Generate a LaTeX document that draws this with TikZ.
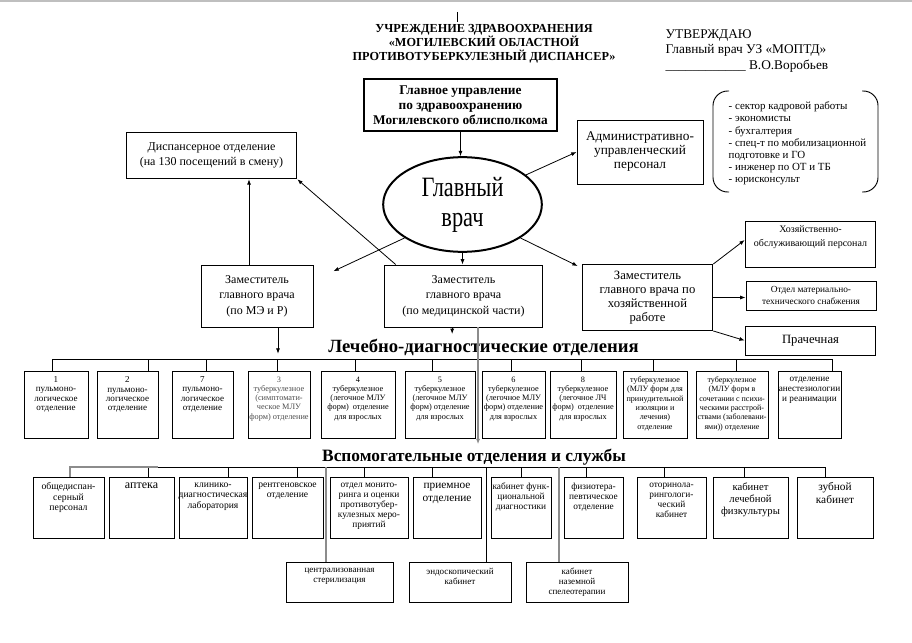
\documentclass[tikz,border=0pt]{standalone}
\usepackage{fontspec}
\setmainfont{Liberation Serif}
\newfontfamily\ovalfont[FakeStretch=0.8]{Liberation Serif}
\usetikzlibrary{calc}
\usetikzlibrary{positioning}
\usetikzlibrary{shapes.geometric}
\usetikzlibrary{arrows.meta}

\newcommand{\fs}[2]{\fontsize{#1}{#2}\selectfont}

\begin{document}
\begin{tikzpicture}[x=0.75pt, y=-0.75pt]
    \tikzstyle{cell}=[draw, rectangle, inner sep=0pt, line width=0.7pt]
    \tikzstyle{ctext}=[anchor=north, align=center, inner sep=2pt, yshift=-2.5pt]
    \tikzstyle{dept}=[cell, minimum height=50.25pt]
    \tikzstyle{serv}=[cell, minimum height=45.75pt]
    \tikzstyle{room}=[cell, minimum height=30pt]
    \tikzstyle{arr}=[-{Latex[length=4pt, width=3pt]}, line width=0.6pt]
    \tikzstyle{grayline}=[draw=black!45, line width=1.3pt]

    \useasboundingbox (0,0) rectangle (912,642);
    \draw[black!25, line width=1.5pt] (0,1) -- (912,1);

    % Header
    \node[font=\bfseries\fs{9.2}{10.5}, align=center] (uz) at (484,44)
      {УЧРЕЖДЕНИЕ ЗДРАВООХРАНЕНИЯ\\«МОГИЛЕВСКИЙ ОБЛАСТНОЙ\\ПРОТИВОТУБЕРКУЛЕЗНЫЙ ДИСПАНСЕР»};
    \draw (457,12) -- (457,22);
    \node[font=\fs{10}{11.6}, align=left, anchor=west] (utv) at (661,51)
      {УТВЕРЖДАЮ\\Главный врач УЗ «МОПТД»\\\_\_\_\_\_\_\_\_\_\_\_\_~В.О.Воробьев};

    % Management
    \node[cell, line width=1.6pt, minimum width=144.75pt, minimum height=39pt,
      font=\bfseries\fs{10}{11.25}, align=center] (gu) at (460.5,105)
      {Главное управление\\по здравоохранению\\Могилевского облисполкома};
    \node[draw, ellipse, line width=1.5pt, minimum width=119pt, minimum height=71pt,
      inner sep=0pt, font=\ovalfont\fs{21}{22.5}, align=center] (gv) at (462.5,204.5)
      {Главный\\врач};
    \node[cell, minimum width=128pt, minimum height=35pt, font=\fs{9}{11.25}, align=center]
      (disp) at (211.5,155.5) {Диспансерное отделение\\(на 130 посещений в смену)};
    \node[cell, minimum width=94.5pt, minimum height=48pt, font=\fs{10}{10.5}, align=center]
      (aup) at (640,152) {Административно-\\управленческий\\персонал};

    % Staff list
    \draw[line width=0.7pt, rounded corners=11pt] (729,91) -- (713,91) -- (713,192) -- (729,192);
    \draw[line width=0.7pt, rounded corners=11pt] (862,91) -- (878,91) -- (878,192) -- (862,192);
    \node[font=\fs{8.2}{9.15}, align=left, anchor=west] (lst) at (724,143.5)
      {- сектор кадровой работы\\- экономисты\\- бухгалтерия\\- спец-т по мобилизационной\\подготовке и ГО\\- инженер по ОТ и ТБ\\- юрисконсульт};

    % Deputies
    \node[cell, minimum width=84pt, minimum height=46.5pt, font=\fs{9}{11.6}, align=center]
      (zam1) at (257,296) {Заместитель\\главного врача\\(по МЭ и Р)};
    \node[cell, minimum width=119pt, minimum height=46.5pt, font=\fs{9}{11.6}, align=center]
      (zam2) at (463.5,296) {Заместитель\\главного врача\\(по медицинской части)};
    \node[cell, minimum width=98pt, minimum height=49.5pt, font=\fs{9.5}{10.5}, align=center]
      (zam3) at (647.5,297.5) {Заместитель\\главного врача по\\хозяйственной\\работе};

    % Household services
    \node[cell, minimum width=98pt, minimum height=34.5pt,
      label={[ctext, yshift=1pt, font=\fs{7.5}{10.5}]north:{Хозяйственно-\\обслуживающий персонал}}]
      (ho) at (810.5,244) {};
    \node[cell, minimum width=97.5pt, minimum height=21.75pt, font=\fs{7}{9}, align=center]
      (mts) at (811,295.5) {Отдел материально-\\технического снабжения};
    \node[cell, minimum width=98pt, minimum height=21.75pt, font=\fs{9.5}{11}]
      (pr) at (810.5,340.5) {Прачечная};

    % Connections at the top
    \draw[arr] (gu.south) -- (gu.south |- gv.north);
    \draw[arr] (gv.25) -- (aup.west);
    \draw[arr] (gv.210) -- ([xshift=15pt, yshift=-5pt]zam1.north east);
    \draw[arr] (gv.south) -- (gv.south |- zam2.north);
    \draw[arr] (gv.330) -- ([xshift=-3pt, yshift=-1.5pt]zam3.north west);
    \draw[arr] ([xshift=9pt]zam2.north west) -- (disp.south east);
    \draw[arr] ([xshift=-6pt]zam1.north) -- ([xshift=-6pt]zam1.north |- disp.south);
    \draw[arr] (zam3.north east) -- ([yshift=3pt]ho.west);
    \draw[arr] (zam3.east) -- (zam3.east -| mts.west);
    \draw[arr] (zam3.south east) -- (pr.west);

    % Titles
    \node[font=\bfseries\fs{14}{15}] (ld) at (483.5,347) {Лечебно-диагностические отделения};
    \node[font=\bfseries\fs{13}{15}] (vs) at (474,457) {Вспомогательные отделения и службы};
    \coordinate (bus1) at (0,359);
    \coordinate (bus2) at (0,467);

    \draw[arr] ([xshift=-8.5pt]zam2.south) -- ([xshift=-8.5pt]zam2.south |- ld.north);
    \draw[arr, shorten >=4pt] ([xshift=15.75pt]zam1.south) -- ([xshift=15.75pt]zam1.south |- bus1);

    % Medical departments
    \node[dept, minimum width=48pt, label={[ctext, font=\fs{6.8}{6.9}]north:{1\\пульмоно-\\логическое\\отделение}}] (l1) at (56,404.5) {};
    \node[dept, minimum width=45.75pt, label={[ctext, font=\fs{6.8}{6.9}]north:{2\\пульмоно-\\логическое\\отделение}}] (l2) at (127.5,404.5) {};
    \node[dept, minimum width=45.75pt, label={[ctext, font=\fs{6.8}{6.9}]north:{7\\пульмоно-\\логическое\\отделение}}] (l3) at (202.5,404.5) {};
    \node[dept, minimum width=46.5pt, label={[ctext, text=black!70, font=\fs{6.2}{6.9}]north:{3\\туберкулезное\\(симптомати-\\ческое МЛУ\\форм) отделение}}] (l4) at (279,404.5) {};
    \node[dept, minimum width=55.5pt, label={[ctext, font=\fs{6.2}{6.9}]north:{4\\туберкулезное\\(легочное МЛУ\\форм)~ отделение\\для взрослых}}] (l5) at (358,404.5) {};
    \node[dept, minimum width=52.5pt, label={[ctext, font=\fs{6.2}{6.9}]north:{5\\туберкулезное\\(легочное МЛУ\\форм) отделение\\для взрослых}}] (l6) at (440,404.5) {};
    \node[dept, minimum width=47.25pt, label={[ctext, font=\fs{6.2}{6.9}]north:{6\\туберкулезное\\(легочное МЛУ\\форм) отделение\\для взрослых}}] (l7) at (513.5,404.5) {};
    \node[dept, minimum width=49.5pt, label={[ctext, font=\fs{6.2}{6.9}]north:{8\\туберкулезное\\(легочное ЛЧ\\форм)~ отделение\\для взрослых}}] (l8) at (583,404.5) {};
    \node[dept, minimum width=48pt, label={[ctext, font=\fs{6.1}{7}]north:{туберкулезное\\(МЛУ форм для\\принудительной\\изоляции и\\лечения)\\отделение}}] (l9) at (655,404.5) {};
    \node[dept, minimum width=54pt, label={[ctext, font=\fs{6}{7}]north:{туберкулезное\\(МЛУ форм в\\сочетании с психи-\\ческими расстрой-\\ствами (заболевани-\\ями)) отделение}}] (l10) at (732,404.5) {};
    \node[dept, minimum width=47.25pt, label={[ctext, font=\fs{6.9}{7.5}]north:{отделение\\анестезиологии\\и реанимации}}] (l11) at (809.5,404.5) {};

    \draw ([xshift=-3pt]l1.north |- bus1) -- ([xshift=16.9pt]l11.north |- bus1);
    \foreach \n/\dx in {l1/-3, l2/15.4, l3/2.6, l4/-1.5, l5/-2.25, l6/-6, l7/-1.9, l8/-1.5, l9/-1.5, l10/3, l11/16.9}
      \draw ([xshift=\dx pt]\n.north) -- ([xshift=\dx pt]\n.north |- bus1);

    \draw[grayline, -{Latex[length=4pt, width=3pt]}] ([xshift=10.9pt]zam2.south) -- ([xshift=10.9pt]zam2.south |- vs.north);

    % Auxiliary services
    \node[serv, minimum width=53.25pt, label={[ctext, font=\fs{7.3}{7.9}]north:{общедиспан-\\серный\\персонал}}] (a1) at (68.5,507.5) {};
    \node[serv, minimum width=48.75pt, label={[ctext, font=\fs{9}{10}]north:{аптека}}] (a2) at (141.5,507.5) {};
    \node[serv, minimum width=51pt, label={[ctext, font=\fs{7.2}{7.9}]north:{клинико-\\диагностическая\\лаборатория}}] (a3) at (213,507.5) {};
    \node[serv, minimum width=53.25pt, label={[ctext, font=\fs{7.2}{7.9}]north:{рентгеновское\\отделение}}] (a4) at (287.5,507.5) {};
    \node[serv, minimum width=58.5pt, label={[ctext, font=\fs{7}{7.5}]north:{отдел монито-\\ринга и оценки\\противотубер-\\кулезных меро-\\приятий}}] (a5) at (369,507.5) {};
    \node[serv, minimum width=51pt, label={[ctext, font=\fs{8.5}{9.75}]north:{приемное\\отделение}}] (a6) at (447,507.5) {};
    \node[serv, minimum width=45pt, label={[ctext, font=\fs{7}{7.5}]north:{кабинет функ-\\циональной\\диагностики}}] (a7) at (521,507.5) {};
    \node[serv, minimum width=44.25pt, label={[ctext, font=\fs{7}{7.5}]north:{физиотера-\\певтическое\\отделение}}] (a8) at (593.5,507.5) {};
    \node[serv, minimum width=51.75pt, label={[ctext, font=\fs{7}{7.5}]north:{оторинола-\\рингологи-\\ческий\\кабинет}}] (a9) at (671.5,507.5) {};
    \node[serv, minimum width=56.25pt, label={[ctext, font=\fs{8}{9}]north:{кабинет\\лечебной\\физкультуры}}] (a10) at (750.5,507.5) {};
    \node[serv, minimum width=57pt, label={[ctext, font=\fs{8.5}{9.4}]north:{зубной\\кабинет}}] (a11) at (835,507.5) {};

    \node[room, minimum width=80.25pt, label={[ctext, font=\fs{6.8}{7.6}]north:{централизованная\\стерилизация}}] (b1) at (339.5,582) {};
    \node[room, minimum width=76.5pt, label={[ctext, font=\fs{6.8}{7.6}]north:{эндоскопический\\кабинет}}] (b2) at (460,582) {};
    \node[room, minimum width=76.5pt, label={[ctext, font=\fs{6.8}{7.6}]north:{кабинет\\наземной\\спелеотерапии}}] (b3) at (577,582) {};

    \draw ([xshift=1.1pt]a1.north |- bus2) -- ([xshift=-7.5pt]a11.north |- bus2);
    \foreach \n/\dx in {a2/4.9, a3/11.25, a4/7.1, a5/-3.75, a6/-11.25, a7/0, a8/-5.6, a9/-5.6, a10/-4.9, a11/-7.5}
      \draw ([xshift=\dx pt]\n.north) -- ([xshift=\dx pt]\n.north |- bus2);
    \draw[grayline] ([xshift=1.1pt]a1.north) -- ([xshift=1.1pt]a1.north |- bus2) -- ([xshift=12pt]a2.north |- bus2);
    \draw[grayline] ([xshift=-10.1pt]b1.north) -- ([xshift=-10.1pt]b1.north |- bus2);
    \draw ([xshift=19.5pt]b2.north) -- ([xshift=19.5pt]b2.north |- bus2);
    \draw[grayline] ([xshift=-13.5pt]b3.north) -- ([xshift=-13.5pt]b3.north |- bus2);
\end{tikzpicture}
\end{document}
